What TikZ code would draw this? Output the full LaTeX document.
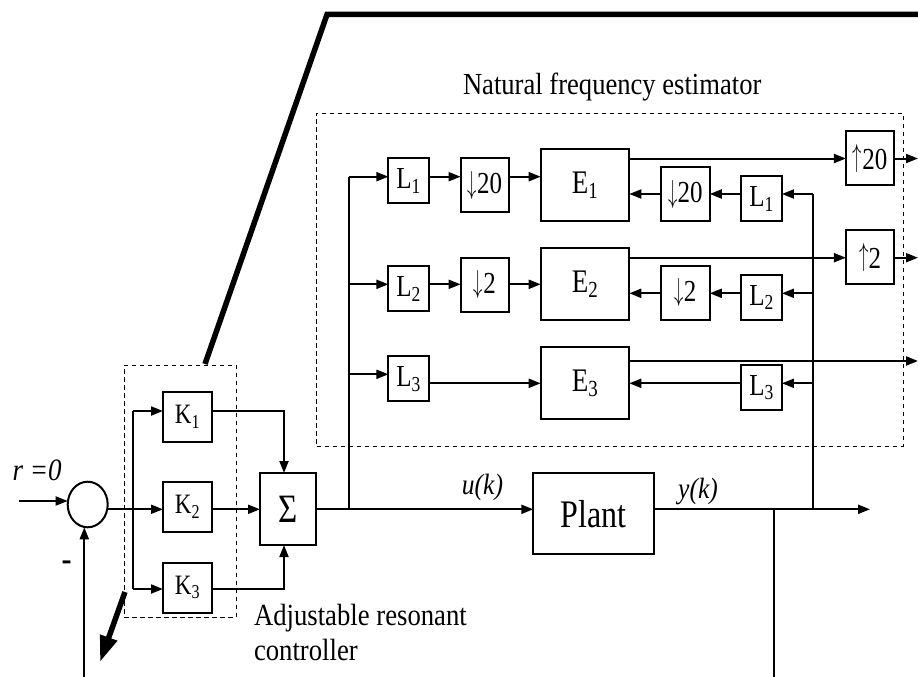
\documentclass[tikz,border=0pt]{standalone}
\usepackage{graphicx}
\usepackage{fontspec}
\setmainfont{Liberation Serif}
\usetikzlibrary{arrows.meta,shapes.geometric}

% slightly tall lettering, as in the drawing
\newcommand{\tallt}[1]{\scalebox{1}[1.15]{#1}}
\newcommand{\tallb}[1]{\scalebox{1}[1.22]{#1}}
\newcommand{\fs}[1]{\fontsize{#1}{#1}\selectfont}
\newcommand{\dn}{\raisebox{0.02em}{\scalebox{0.75}[1.05]{$\downarrow$}}}
\newcommand{\up}{\raisebox{0.1em}{\scalebox{0.75}[1.05]{$\uparrow$}}}

\tikzset{
  blk/.style={draw, line width=2pt, inner sep=0pt, outer sep=0pt},
  lbox/.style={blk, minimum width=40.5pt, minimum height=45pt, font=\fs{25}},
  dbox/.style={blk, minimum width=48.5pt, minimum height=54pt, font=\fs{25}},
  ebox/.style={blk, minimum width=88.6pt, minimum height=72pt, font=\fs{27}},
  kbox/.style={blk, minimum width=49pt, minimum height=50pt, font=\fs{23}},
  wire/.style={line width=2pt},
  arr/.style={wire, -{Triangle[length=12pt,width=9pt]}},
  grp/.style={draw, line width=0.9pt, dash pattern=on 4.5pt off 3.5pt},
  txt/.style={inner sep=0pt, outer sep=0pt},
  heavy/.style={line width=5.5pt},
}

\begin{document}
\begin{tikzpicture}[x=1pt, y=-1pt]
\useasboundingbox (0,0) rectangle (918,677);

% ---------- signal levels ----------
\coordinate (yA) at (0,176.7);
\coordinate (yB) at (0,284.3);
\coordinate (yC) at (0,374.3);
\coordinate (yC2) at (0,383.3);
\coordinate (fA) at (0,194);
\coordinate (fB) at (0,293.3);
\coordinate (oA) at (0,158.5);
\coordinate (oB) at (0,257.7);
\coordinate (oC) at (0,361);
\coordinate (m) at (0,509.3);
\coordinate (k1) at (0,411);
\coordinate (k3) at (0,589);

% ---------- zoom outline ----------
\coordinate (zb) at (205,364);
\coordinate (zt) at (327,14.5);
\coordinate (ze) at (918,14.5);
\draw[heavy, line join=miter] (zb) -- (zt) -- (ze);
\coordinate (za) at (125,592);
\coordinate (zc) at (100,662);
\draw[heavy, -{Triangle[length=26pt,width=17pt]}] (za) -- (zc);

% ---------- group frames ----------
\node[grp, minimum width=586.3pt, minimum height=333pt, inner sep=0pt] (estf) at (609.85,279.5) {};
\node[grp, minimum width=112pt, minimum height=252pt, inner sep=0pt] (ctrlf) at (180,491) {};
\node[txt, anchor=base] (estt) at (612.2,94.3) {\fs{26.6}\tallt{Natural frequency estimator}};
\node[txt, anchor=base west] (ctt1) at (254,625) {\fs{26.7}\tallt{Adjustable resonant}};
\node[txt, anchor=base west] (ctt2) at (254,660) {\fs{26.7}\tallt{controller}};

% ---------- estimator blocks ----------
\node[lbox] (L1) at (408.65,180.8) {\tallb{L\textsubscript{1}}};
\node[lbox] (L2) at (408.65,288.85) {\tallb{L\textsubscript{2}}};
\node[lbox] (L3) at (408.65,378.85) {\tallb{L\textsubscript{3}}};
\node[dbox] (D1) at (484.85,185.3) {\tallb{\dn20}};
\node[dbox] (D2) at (484.85,284.5) {\tallb{\dn2}};
\node[ebox] (E1) at (585,185.15) {\tallb{E\textsubscript{1}}};
\node[ebox] (E2) at (585,283.85) {\tallb{E\textsubscript{2}}};
\node[ebox] (E3) at (585,383.15) {\tallb{E\textsubscript{3}}};
\node[dbox] (D1r) at (685.5,194.15) {\tallb{\dn20}};
\node[dbox] (D2r) at (685.5,293) {\tallb{\dn2}};
\node[lbox] (L1r) at (761.7,198.85) {\tallb{L\textsubscript{1}}};
\node[lbox] (L2r) at (761.7,297.5) {\tallb{L\textsubscript{2}}};
\node[lbox] (L3r) at (761.7,387.5) {\tallb{L\textsubscript{3}}};
\node[dbox] (U1) at (870.15,158.35) {\tallb{\up20}};
\node[dbox] (U2) at (870.15,257.15) {\tallb{\up2}};

% ---------- loop blocks ----------
\node[blk, ellipse, minimum width=40pt, minimum height=45.6pt] (cmp) at (87.7,504.5) {};
\node[kbox] (K1) at (187.5,417) {\tallb{K\textsubscript{1}}};
\node[kbox] (K2) at (187.5,507) {\tallb{K\textsubscript{2}}};
\node[kbox] (K3) at (187.5,587.5) {\tallb{K\textsubscript{3}}};
\node[blk, minimum width=56pt, minimum height=72pt, font=\fs{33}] (sig) at (288,509) {\tallb{Σ}};
\node[blk, minimum width=120.7pt, minimum height=81pt, font=\fs{32}] (plant) at (593.65,513.8) {\tallb{Plant}};

% ---------- loop labels ----------
\node[txt, anchor=base west] (rlab) at (12.7,480.7) {\fs{27}\tallt{\textit{r =0}}};
\node[txt, font=\fs{30}\bfseries] (minus) at (66.7,566) {\tallt{-}};
\node[txt, anchor=base] (ulab) at (482.5,494) {\fs{25.5}\tallt{\textit{u(k)}}};
\node[txt, anchor=base] (ylab) at (698,498) {\fs{25.5}\tallt{\textit{y(k)}}};

% ---------- loop wiring ----------
\coordinate (rin) at (19.3,501);
\coordinate (bx) at (132.7,0);
\coordinate (sx) at (284,0);
\coordinate (sp) at (349.3,509.3);
\coordinate (fb) at (813.3,509.3);
\coordinate (dr) at (774,509.3);
\coordinate (drend) at (774,677);
\coordinate (yend) at (870,509.3);
\coordinate (fbin) at (84.3,677);

\draw[arr] (rin) -- (cmp.west |- rin);
\draw[arr] (fbin) -- (fbin |- cmp.south);
\draw[arr] (cmp.east |- m) -- (K2.west |- m);
\draw[wire] (bx |- k1) -- (bx |- k3);
\draw[arr] (bx |- k1) -- (K1.west |- k1);
\draw[arr] (bx |- k3) -- (K3.west |- k3);
\draw[arr] (K1.east |- k1) -| (sig.north -| sx);
\draw[arr] (K2.east |- m) -- (sig.west |- m);
\draw[arr] (K3.east |- k3) -| (sig.south -| sx);
\draw[arr] (sig.east |- m) -- (plant.west |- m);
\draw[arr] (plant.east |- m) -- (yend);
\draw[wire] (dr) -- (drend);

% ---------- estimator wiring ----------
\draw[wire] (sp) -- (sp |- yA);
\draw[arr] (sp |- yA) -- (L1.west |- yA);
\draw[arr] (sp |- yB) -- (L2.west |- yB);
\draw[arr] (sp |- yC) -- (L3.west |- yC);
\draw[arr] (L1.east |- yA) -- (D1.west |- yA);
\draw[arr] (D1.east |- yA) -- (E1.west |- yA);
\draw[arr] (L2.east |- yB) -- (D2.west |- yB);
\draw[arr] (D2.east |- yB) -- (E2.west |- yB);
\draw[arr] (L3.east |- yC2) -- (E3.west |- yC2);

\draw[wire] (fb) -- (fb |- fA);
\draw[arr] (fb |- fA) -- (L1r.east |- fA);
\draw[arr] (L1r.west |- fA) -- (D1r.east |- fA);
\draw[arr] (D1r.west |- fA) -- (E1.east |- fA);
\draw[arr] (fb |- fB) -- (L2r.east |- fB);
\draw[arr] (L2r.west |- fB) -- (D2r.east |- fB);
\draw[arr] (D2r.west |- fB) -- (E2.east |- fB);
\draw[arr] (fb |- yC2) -- (L3r.east |- yC2);
\draw[arr] (L3r.west |- yC2) -- (E3.east |- yC2);

\coordinate (edge1) at (918,158.5);
\coordinate (edge2) at (918,257.7);
\coordinate (edge3) at (918,361);
\draw[arr] (E1.east |- oA) -- (U1.west |- oA);
\draw[arr] (U1.east |- oA) -- (edge1);
\draw[arr] (E2.east |- oB) -- (U2.west |- oB);
\draw[arr] (U2.east |- oB) -- (edge2);
\draw[arr] (E3.east |- oC) -- (edge3);
\end{tikzpicture}
\end{document}
